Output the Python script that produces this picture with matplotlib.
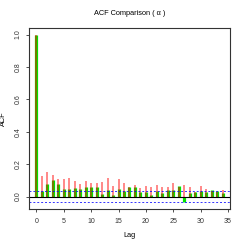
import numpy as np
import matplotlib
matplotlib.use("Agg")
import matplotlib.pyplot as plt

plt.rcParams['font.family'] = ['Liberation Sans', 'DejaVu Sans']

# ACF values
lags = np.arange(0, 35)
acf_red = [1.0, 0.127, 0.152, 0.13, 0.107, 0.107, 0.115, 0.094, 0.078, 0.098,
           0.086, 0.086, 0.092, 0.113, 0.066, 0.109, 0.086, 0.057, 0.072, 0.055,
           0.066, 0.06, 0.07, 0.057, 0.06, 0.086, 0.057, 0.072, 0.06, 0.03,
           0.066, 0.047, 0.035, 0.03, 0.043]
acf_green = [1.0, 0.037, 0.078, 0.103, 0.078, 0.047, 0.047, 0.055, 0.047, 0.057,
             0.06, 0.06, 0.016, 0.041, 0.012, 0.045, 0.033, 0.06, 0.057, 0.029,
             0.027, 0.012, 0.037, 0.02, 0.041, 0.041, 0.066, -0.033, 0.02, 0.029,
             0.035, 0.025, 0.039, 0.031, 0.02]
ci = 0.036

fig = plt.figure(figsize=(2.45, 2.45), dpi=100)
ax = fig.add_axes([0.118, 0.147, 0.821, 0.739])

ax.vlines(lags, 0, acf_green, colors='#00e400', linewidth=2.3)
ax.vlines(lags, 0, acf_red, colors='red', alpha=0.5, linewidth=1.3)
ax.axhline(0, color='black', linewidth=0.8)
ax.axhline(ci, color='blue', linestyle=(0, (2, 2)), linewidth=0.7, alpha=0.8)
ax.axhline(-ci, color='blue', linestyle=(0, (2, 2)), linewidth=0.7, alpha=0.8)

ax.set_xlim(-1.36, 35.36)
ax.set_ylim(-0.077, 1.041)
ax.set_xticks(np.arange(0, 36, 5))
ax.set_yticks(np.arange(0, 1.01, 0.2))
ax.set_yticklabels(['0.0', '0.2', '0.4', '0.6', '0.8', '1.0'], rotation=90, va='center')
ax.tick_params(labelsize=5, length=2.5, width=0.6, pad=2.5, colors='#333333')
ax.tick_params(axis='x', pad=4)
for s in ax.spines.values():
    s.set_linewidth(0.8)
    s.set_color('#333333')

ax.set_title('ACF Comparison ( α )', fontsize=5.3, pad=9)
ax.set_xlabel('Lag', fontsize=5.3, labelpad=5)
ax.set_ylabel('ACF', fontsize=5.3, labelpad=6)

fig.savefig('out.png', dpi=100)
